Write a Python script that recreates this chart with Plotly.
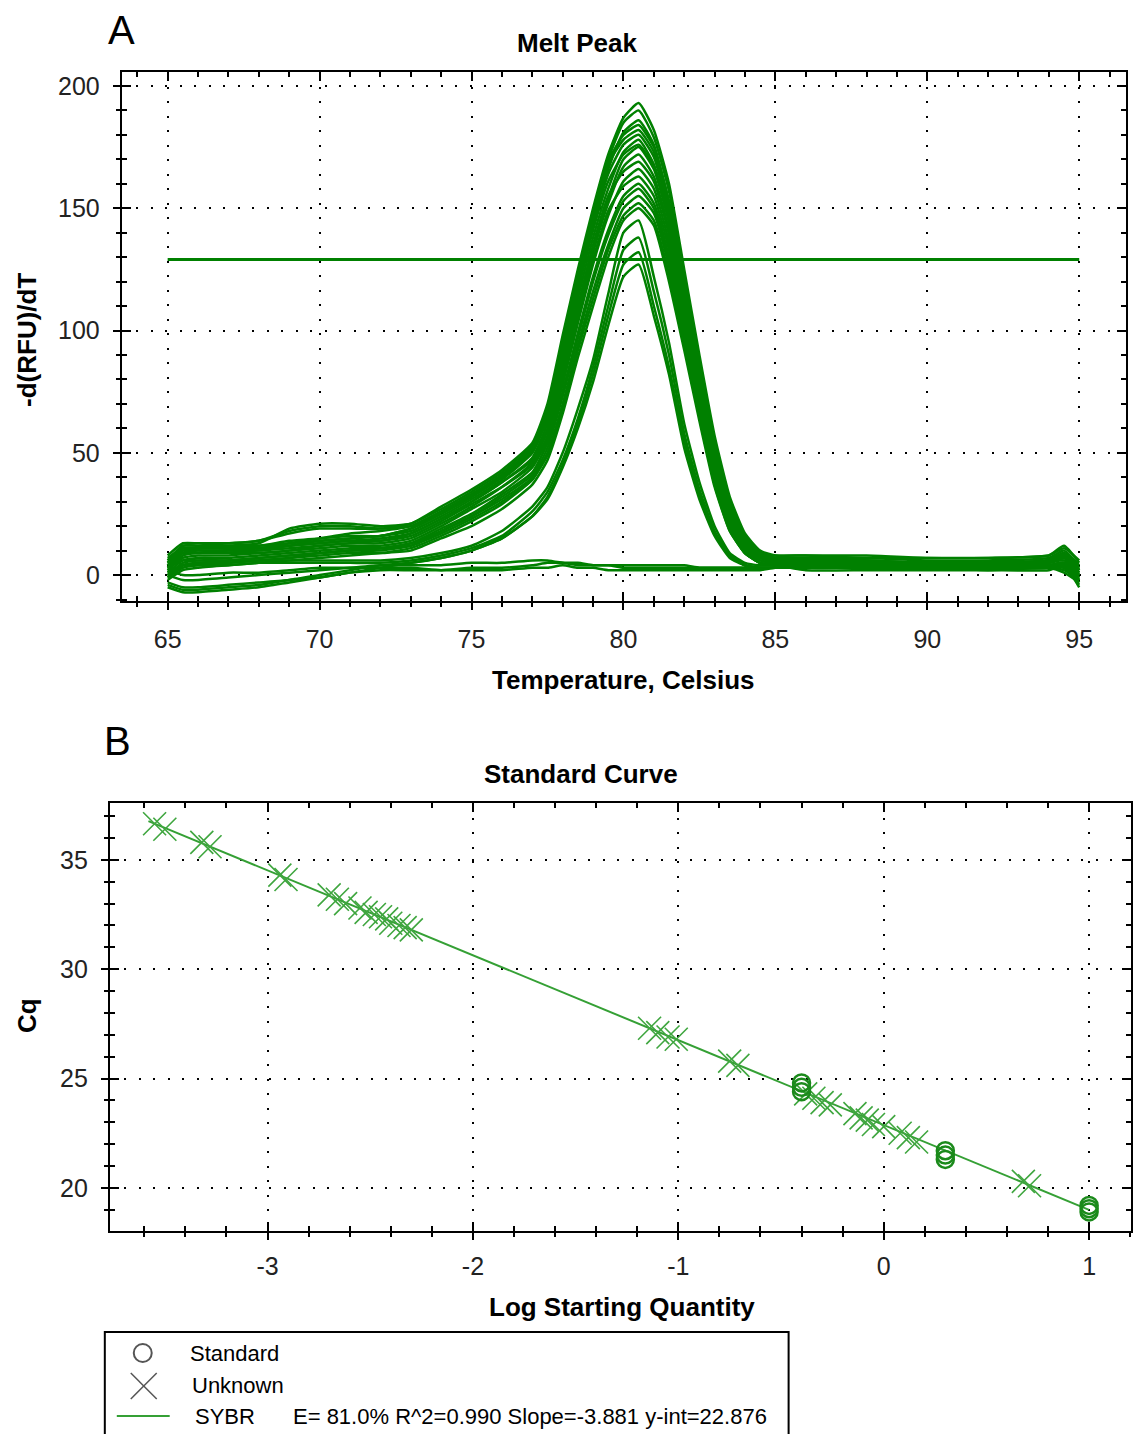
import plotly.graph_objects as go

# ---------------- Melt Peak data ----------------
temps = [65, 65.5, 66, 67, 68, 69, 70, 71, 72, 73, 74, 75, 76, 77, 77.5, 78, 78.5, 79, 79.5, 80,
         80.5, 81, 81.5, 82, 82.5, 83, 83.5, 84, 84.5, 85, 86, 88, 90, 92, 94, 94.5, 95]

melt_main = [
    [8, 13, 13, 13, 14, 17, 19, 19, 19, 21, 28, 35, 43, 54, 70, 98, 125, 150, 172, 187,
     193, 182, 160, 125, 90, 57, 32, 17, 10, 8, 8, 7, 7, 7, 8, 11, 6],
    [6, 12, 12, 12, 12, 14, 15, 16, 16, 19, 25, 32, 40, 51, 66, 92, 120, 145, 166, 181,
     186, 176, 152, 118, 84, 52, 28, 15, 9, 7, 6, 6, 5, 5, 6, 8, 3],
    [5, 11, 11, 11, 11, 12, 13, 14, 14, 17, 23, 30, 38, 48, 62, 86, 113, 138, 158, 173,
     178, 168, 146, 113, 80, 49, 26, 14, 8, 6, 6, 5, 5, 5, 6, 9, 2],
    [3, 9, 10, 10, 10, 11, 12, 13, 13, 15, 21, 28, 36, 46, 59, 82, 108, 132, 152, 167,
     172, 163, 141, 108, 76, 46, 24, 12, 7, 6, 5, 5, 5, 4, 5, 7, 1],
    [2, 8, 9, 9, 9, 10, 11, 12, 12, 14, 20, 27, 34, 44, 56, 78, 103, 127, 147, 161,
     166, 158, 136, 104, 72, 43, 22, 11, 7, 5, 5, 5, 4, 4, 5, 6, 0],
    [1, 6, 7, 7, 8, 9, 10, 11, 11, 13, 19, 25, 33, 42, 54, 75, 99, 122, 141, 155,
     160, 152, 130, 99, 68, 40, 20, 10, 6, 5, 5, 4, 4, 4, 4, 5, -1],
    [0, 5, 6, 6, 7, 8, 9, 10, 10, 12, 18, 24, 32, 41, 55, 79, 106, 132, 154, 170,
     175, 166, 144, 111, 78, 47, 25, 13, 8, 6, 6, 5, 5, 5, 6, 8, 2],
    [4, 10, 11, 11, 11, 13, 15, 17, 18, 20, 26, 33, 41, 52, 67, 93, 121, 146, 168, 178,
     182, 173, 150, 116, 83, 51, 27, 14, 8, 7, 6, 6, 5, 5, 6, 9, 3],
    [-1, 4, 5, 5, 6, 7, 8, 9, 9, 11, 16, 22, 29, 39, 50, 70, 94, 116, 135, 150,
     155, 148, 126, 96, 66, 38, 19, 9, 5, 4, 3, 3, 3, 2, 3, 3, -4],
    [-2, 2, 3, 4, 5, 6, 7, 8, 9, 10, 15, 20, 27, 37, 47, 66, 89, 110, 130, 145,
     150, 143, 120, 92, 63, 36, 18, 9, 5, 4, 2, 2, 2, 2, 2, 4, -5],
    [7, 11, 11, 12, 13, 19, 21, 21, 20, 21, 27, 34, 42, 53, 68, 96, 123, 148, 170, 185,
     190, 179, 157, 122, 88, 55, 30, 16, 9, 8, 8, 8, 7, 7, 8, 12, 5],
    [4, 10, 10, 10, 11, 12, 13, 14, 15, 17, 23, 30, 38, 47, 60, 84, 110, 135, 155, 165,
     169, 161, 139, 106, 74, 45, 23, 12, 7, 6, 5, 5, 5, 5, 5, 8, 1],
    [2, 7, 8, 8, 9, 10, 12, 13, 14, 16, 22, 29, 36, 45, 57, 80, 105, 129, 149, 159,
     163, 155, 133, 101, 70, 42, 21, 11, 6, 5, 5, 5, 4, 4, 5, 7, 0],
    [5, 12, 12, 13, 14, 18, 20, 20, 19, 20, 26, 33, 41, 52, 67, 95, 122, 147, 169, 180,
     184, 175, 153, 119, 86, 53, 29, 15, 9, 7, 7, 7, 6, 6, 7, 10, 4],
    [-1, 3, 4, 5, 6, 7, 9, 10, 11, 13, 18, 24, 31, 40, 52, 73, 97, 120, 139, 153,
     158, 150, 128, 97, 67, 39, 19, 9, 5, 4, 4, 4, 4, 4, 4, 5, -2],
    [6, 11, 11, 11, 12, 13, 14, 15, 16, 18, 24, 31, 39, 50, 64, 89, 116, 141, 161, 172,
     176, 167, 145, 112, 79, 48, 25, 13, 8, 6, 6, 5, 5, 5, 6, 8, 2],
    [0, 4, 5, 6, 7, 8, 9, 10, 11, 12, 17, 23, 30, 39, 49, 68, 92, 113, 133, 147,
     152, 145, 123, 94, 65, 37, 18, 9, 5, 4, 4, 4, 4, 4, 4, 4, -1],
    [3, 9, 9, 10, 10, 12, 14, 15, 16, 19, 25, 32, 40, 50, 65, 90, 118, 143, 164, 176,
     180, 171, 148, 114, 81, 50, 26, 14, 8, 6, 6, 6, 5, 5, 6, 9, 2],
]

melt_low = [
    [3, 6, 6, 6, 6, 6, 6, 6, 6, 7, 9, 12, 18, 28, 36, 50, 68, 88, 115, 140,
     145, 122, 95, 62, 38, 20, 9, 5, 4, 4, 4, 4, 4, 4, 4, 5, 0],
    [1, 4, 4, 4, 5, 5, 5, 5, 5, 6, 8, 11, 16, 26, 34, 47, 64, 85, 110, 133,
     138, 116, 90, 58, 35, 18, 8, 4, 3, 3, 3, 3, 3, 3, 4, 5, -1],
    [-3, -5, -5, -4, -3, -2, 0, 2, 4, 5, 7, 10, 15, 24, 32, 45, 62, 82, 106, 127,
     132, 110, 85, 55, 33, 17, 8, 4, 3, 3, 3, 3, 3, 3, 3, 4, -2],
    [-5, -7, -7, -6, -5, -3, -1, 1, 3, 5, 7, 10, 15, 24, 31, 44, 60, 79, 102, 122,
     127, 106, 82, 52, 31, 16, 7, 4, 3, 3, 3, 3, 3, 3, 3, 4, -3],
]

melt_flat = [
    [-4, -6, -6, -5, -4, -2, -1, 1, 2, 2, 2, 3, 3, 4, 5, 5, 5, 4, 4, 3,
     3, 3, 3, 3, 3, 3, 3, 3, 3, 3, 4, 4, 4, 3, 3, 1, -3],
    [2, 0, 0, 1, 1, 2, 3, 3, 3, 3, 2, 2, 2, 3, 3, 4, 3, 3, 2, 2,
     2, 2, 2, 2, 2, 2, 2, 2, 2, 3, 3, 3, 3, 3, 3, 2, -2],
    [0, -2, -2, -1, 0, 1, 2, 3, 4, 4, 4, 5, 5, 6, 6, 5, 4, 4, 4, 4,
     4, 4, 4, 4, 3, 3, 3, 3, 3, 3, 4, 4, 4, 4, 4, 3, -1],
]

threshold = 129
threshold_x = [65, 95]

# ---------------- Standard Curve data ----------------
std_logq = [-0.4, -0.4, -0.4, 0.3, 0.3, 0.3, 1.0, 1.0, 1.0]
std_cq = [24.4, 24.6, 24.8, 21.3, 21.5, 21.7, 18.9, 19.05, 19.2]

unk_logq = [-3.55, -3.50, -3.32, -3.28, -2.94, -2.91, -2.70, -2.66, -2.62, -2.55, -2.52,
            -2.48, -2.45, -2.42, -2.40, -2.36, -2.33, -2.30, -1.14, -1.10, -1.05, -1.01,
            -0.75, -0.71, -0.38, -0.34, -0.30, -0.26, -0.14, -0.11, -0.08, -0.05, 0.00,
            0.08, 0.12, 0.16, 0.68, 0.71]
unk_cq = [36.65, 36.4, 35.8, 35.6, 34.3, 34.1, 33.4, 33.2, 33.0, 32.8, 32.6,
          32.5, 32.4, 32.3, 32.1, 32.0, 31.9, 31.8, 27.3, 27.1, 26.9, 26.8,
          25.8, 25.6, 24.3, 24.1, 23.9, 23.8, 23.4, 23.2, 23.1, 22.9, 22.8,
          22.5, 22.3, 22.1, 20.3, 20.1]

slope = -3.881
y_int = 22.876
fit_x = [-3.58, 1.0]
fit_y = [slope * v + y_int for v in fit_x]

legend_stats = "E= 81.0% R^2=0.990 Slope=-3.881 y-int=22.876"

W, H = 1133, 1434
FONT = "Liberation Sans, Arial, sans-serif"
MELT_GREEN = "#008000"
STD_GREEN = "#35a035"
X_GREEN = "#3fa63f"


def px(x):
    return x / W


def py(y):
    return 1 - y / H


fig = go.Figure()

for curve in melt_main + melt_low + melt_flat:
    fig.add_trace(go.Scatter(x=temps, y=curve, mode="lines",
                             line=dict(color=MELT_GREEN, width=2.5, shape="spline", smoothing=0.5),
                             xaxis="x", yaxis="y", hoverinfo="skip"))
fig.add_trace(go.Scatter(x=threshold_x, y=[threshold, threshold], mode="lines",
                         line=dict(color=MELT_GREEN, width=3), xaxis="x", yaxis="y"))

fig.add_trace(go.Scatter(x=fit_x, y=fit_y, mode="lines",
                         line=dict(color=STD_GREEN, width=2), xaxis="x2", yaxis="y2"))
fig.add_trace(go.Scatter(x=unk_logq, y=unk_cq, mode="markers",
                         marker=dict(symbol="x-thin-open", size=23, color=X_GREEN,
                                     line=dict(color=X_GREEN, width=1.6)),
                         xaxis="x2", yaxis="y2"))
fig.add_trace(go.Scatter(x=std_logq, y=std_cq, mode="markers",
                         marker=dict(symbol="circle-open", size=17, color="#1b8a1b",
                                     line=dict(color="#1b8a1b", width=2.5)),
                         xaxis="x2", yaxis="y2"))


def main_axis(**kw):
    d = dict(showline=True, linecolor="black", linewidth=2, mirror="allticks",
             ticks="inside", ticklen=9, tickwidth=2, tickcolor="black",
             tickfont=dict(family=FONT, size=25, color="#222"), zeroline=False,
             showgrid=True, gridcolor="black", gridwidth=1.6, griddash="2px,12.5px")
    d.update(kw)
    return d


def out_axis(**kw):
    d = dict(ticks="outside", ticklen=8, tickwidth=2, tickcolor="black",
             showticklabels=False, showgrid=False, showline=False, zeroline=False)
    d.update(kw)
    return d


def minor(tick0, dtick, side="inside"):
    return dict(tickmode="linear", tick0=tick0, dtick=dtick, ticks=side, ticklen=5,
                tickwidth=1.5, tickcolor="black", showgrid=False)


xa_range = [63.49, 96.54]
ya_range = [-10.6, 205.7]
xb_range = [-3.768, 1.204]
yb_range = [18.03, 37.6]

xb_ticks = [-3, -2, -1, 0, 1]
xb_text = ["-3", "-2", "-1", "0", "1"]

fig.update_layout(
    width=W, height=H, margin=dict(l=0, r=0, t=0, b=0),
    paper_bgcolor="white", plot_bgcolor="white", showlegend=False,
    xaxis=main_axis(domain=[px(122), px(1128)], anchor="y", range=xa_range,
                    tickmode="linear", tick0=65, dtick=5, minor=minor(65, 1),
                    ticklabelstandoff=15),
    yaxis=main_axis(domain=[py(601), py(72)], anchor="x", range=ya_range,
                    tickmode="linear", tick0=0, dtick=50, minor=minor(0, 10),
                    ticklabelstandoff=15),
    xaxis3=out_axis(overlaying="x", anchor="y", range=xa_range,
                    tickmode="linear", tick0=65, dtick=5, minor=minor(65, 1, "outside")),
    yaxis3=out_axis(overlaying="y", anchor="x", side="left", range=ya_range,
                    tickmode="linear", tick0=0, dtick=50, minor=minor(0, 10, "outside")),
    xaxis2=main_axis(domain=[px(110), 1.0], anchor="y2", range=xb_range,
                     tickmode="array", tickvals=xb_ticks, ticktext=xb_text,
                     minor=minor(-3, 0.2), ticklabelstandoff=12),
    yaxis2=main_axis(domain=[py(1231), py(803)], anchor="x2", range=yb_range,
                     tickmode="linear", tick0=20, dtick=5, minor=minor(20, 1),
                     ticklabelstandoff=15),
    xaxis4=out_axis(overlaying="x2", anchor="y2", range=xb_range,
                    tickmode="array", tickvals=xb_ticks, minor=minor(-3, 0.2, "outside")),
    yaxis4=out_axis(overlaying="y2", anchor="x2", side="left", range=yb_range,
                    tickmode="linear", tick0=20, dtick=5, minor=minor(20, 1, "outside")),
)

# invisible traces so the outward-tick overlay axes get drawn
fig.add_trace(go.Scatter(x=[None], y=[None], xaxis="x3", yaxis="y3", showlegend=False))
fig.add_trace(go.Scatter(x=[None], y=[None], xaxis="x4", yaxis="y4", showlegend=False))


def note(text, x, y, size=26, angle=0, anchor="center", color="black"):
    fig.add_annotation(text=text, x=px(x), y=py(y), xref="paper", yref="paper",
                       showarrow=False, textangle=angle, xanchor=anchor, yanchor="middle",
                       font=dict(family=FONT, size=size, color=color))


note("A", 122, 30, size=40)
note("B", 118, 741, size=40)
note("<b>Melt Peak</b>", 578, 43)
note("<b>Temperature, Celsius</b>", 625, 680)
note("<b>-d(RFU)/dT</b>", 27, 340, angle=-90)
note("<b>Standard Curve</b>", 582, 774)
note("<b>Log Starting Quantity</b>", 623, 1307)
note("<b>Cq</b>", 27, 1015, angle=-90)

# legend box
fig.add_shape(type="rect", xref="paper", yref="paper", x0=px(105), x1=px(790),
              y0=py(1440), y1=py(1332), line=dict(color="black", width=2))
fig.add_shape(type="circle", xref="paper", yref="paper", x0=px(134), x1=px(152),
              y0=py(1362), y1=py(1344), line=dict(color="#555", width=2))
fig.add_shape(type="line", xref="paper", yref="paper", x0=px(131), x1=px(157),
              y0=py(1373), y1=py(1399), line=dict(color="#555", width=1.5))
fig.add_shape(type="line", xref="paper", yref="paper", x0=px(131), x1=px(157),
              y0=py(1399), y1=py(1373), line=dict(color="#555", width=1.5))
fig.add_shape(type="line", xref="paper", yref="paper", x0=px(117), x1=px(170),
              y0=py(1416), y1=py(1416), line=dict(color=STD_GREEN, width=2))
note("Standard", 188, 1353, size=22, anchor="left")
note("Unknown", 190, 1385, size=22, anchor="left")
note("SYBR", 193, 1416, size=22, anchor="left")
note(legend_stats, 292, 1416, size=22, anchor="left")

# the page body has a default 8px margin; remove it so the figure sits at the corner
fig.write_html("out.html", config={"displayModeBar": False},
               post_script="document.body.style.margin='0';")
